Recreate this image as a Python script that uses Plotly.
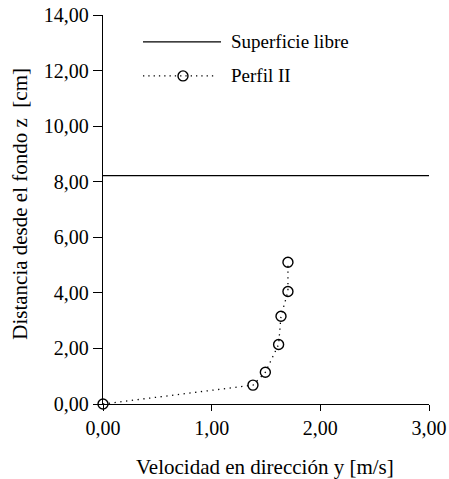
import plotly.graph_objects as go

# Data
vel = [0.0, 1.38, 1.494, 1.616, 1.638, 1.702, 1.702]
z = [0.0, 0.68, 1.14, 2.14, 3.16, 4.05, 5.10]
surf_x = [0.0, 3.0]
surf_y = [8.22, 8.22]
x_ticks = [0, 1, 2, 3]
y_ticks = [0, 2, 4, 6, 8, 10, 12, 14]

FONT = "Liberation Serif"
BLACK = "#000000"

fig = go.Figure()
fig.add_trace(go.Scatter(x=surf_x, y=surf_y, mode="lines",
                         line=dict(color=BLACK, width=1.3),
                         name="Superficie libre", showlegend=False, cliponaxis=False))
fig.add_trace(go.Scatter(x=vel, y=z, mode="lines+markers",
                         line=dict(color=BLACK, width=1.3, dash="1.3px,4.5px"),
                         marker=dict(symbol="circle-open", size=10, color=BLACK,
                                     line=dict(width=1.4, color=BLACK)),
                         name="Perfil II", showlegend=False, cliponaxis=False))

# Manual legend (paper coordinates)
W, H = 449, 479
L, R, T, B = 103, 20, 15, 74.5
pw, ph = W - L - R, H - T - B
def px(x):
    return (x - L) / pw
def py(y):
    return (H - B - y) / ph

shapes = [
    dict(type="line", xref="paper", yref="paper", x0=px(143), x1=px(221), y0=py(42), y1=py(42),
         line=dict(color=BLACK, width=1.3)),
    dict(type="line", xref="paper", yref="paper", x0=px(143), x1=px(217), y0=py(76), y1=py(76),
         line=dict(color=BLACK, width=1.2, dash="1.3px,4px")),
]
fig.add_trace(go.Scatter(x=[(183 - L) / pw * 3], y=[(H - B - 76) / ph * 14], mode="markers",
                         marker=dict(symbol="circle", size=10, color="white",
                                     line=dict(width=1.4, color=BLACK)),
                         showlegend=False, hoverinfo="skip", cliponaxis=False))

annotations = [
    dict(text="Superficie libre", xref="paper", yref="paper", x=px(229), y=py(42),
         xanchor="left", yanchor="middle", showarrow=False, font=dict(size=19, family=FONT, color=BLACK)),
    dict(text="Perfil II", xref="paper", yref="paper", x=px(229), y=py(76),
         xanchor="left", yanchor="middle", showarrow=False, font=dict(size=19, family=FONT, color=BLACK)),
    dict(text="Distancia desde el fondo z&nbsp; [cm]", xref="paper", yref="paper", x=px(20), y=py(204),
         xanchor="center", yanchor="middle", textangle=-90, showarrow=False,
         font=dict(size=21, family=FONT, color=BLACK)),
    dict(text="Velocidad en dirección y [m/s]", xref="paper", yref="paper", x=px(265), y=py(468),
         xanchor="center", yanchor="middle", showarrow=False,
         font=dict(size=21, family=FONT, color=BLACK)),
]

axis_common = dict(showgrid=False, zeroline=False, showline=True, linecolor=BLACK, linewidth=1.3,
                   ticks="outside", tickwidth=1.3, tickcolor=BLACK, automargin=False,
                   tickformat=".2f", tickfont=dict(size=20, family=FONT, color=BLACK), mirror=False)

fig.update_layout(
    template="none",
    width=W, height=H,
    margin=dict(l=L, r=R, t=T, b=B, pad=0),
    paper_bgcolor="white", plot_bgcolor="white",
    separators=",.",
    font=dict(family=FONT, color=BLACK),
    xaxis=dict(range=[0, 3], tickvals=x_ticks, ticklen=6, **axis_common),
    yaxis=dict(range=[0, 14], tickvals=y_ticks, ticklen=9, **axis_common),
    shapes=shapes, annotations=annotations,
    showlegend=False,
)

fig.write_html("out.html", config={"displayModeBar": False},
               post_script="document.body.style.margin='0';document.body.style.overflow='hidden';")
